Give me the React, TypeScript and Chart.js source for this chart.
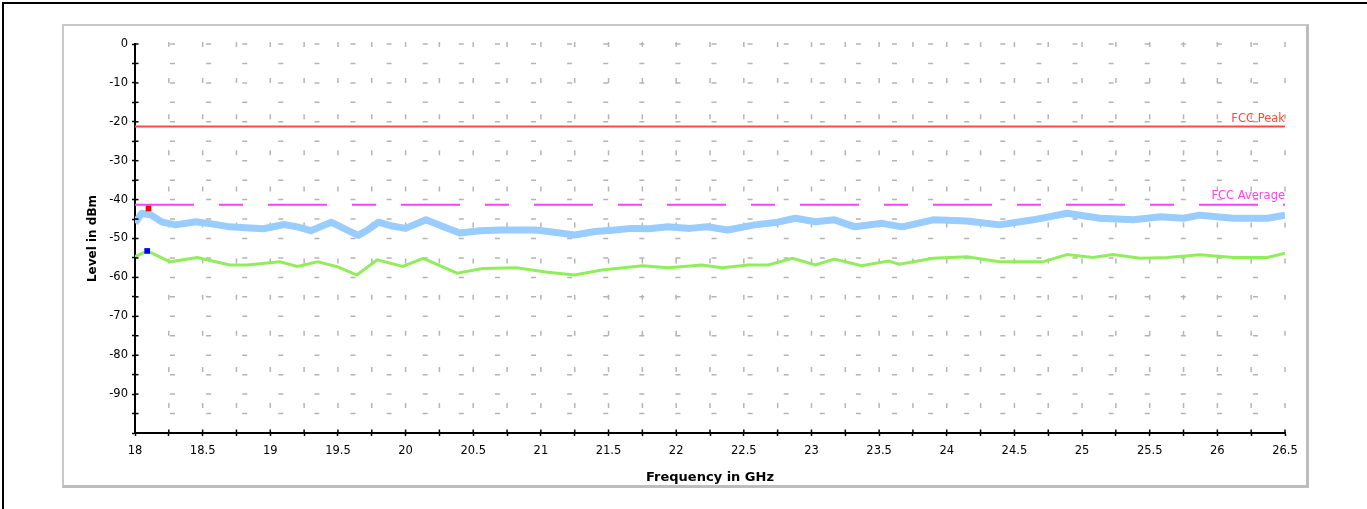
import React, { useEffect, useRef } from "react";
import { Chart, registerables } from "chart.js";

Chart.register(...registerables);

// ---- data ----
const peakTraceFreq = [
  18.0, 18.05, 18.12, 18.2, 18.3, 18.45, 18.58, 18.7, 18.85, 18.95, 19.1, 19.2, 19.3, 19.45, 19.55,
  19.65, 19.72, 19.8, 19.9, 20.0, 20.15, 20.28, 20.4, 20.55, 20.7, 20.85, 20.96, 21.1, 21.25, 21.4,
  21.55, 21.67, 21.8, 21.94, 22.1, 22.23, 22.38, 22.58, 22.75, 22.88, 23.03, 23.17, 23.32, 23.52,
  23.67, 23.9, 24.15, 24.39, 24.64, 24.89, 25.13, 25.38, 25.58, 25.75, 25.87, 26.12, 26.37, 26.5,
];
const peakTraceLevel = [
  -46.0, -43.5, -44.0, -45.8, -46.5, -45.7, -46.3, -47.0, -47.3, -47.5, -46.4, -47.0, -48.0, -45.8, -47.5,
  -49.2, -47.8, -45.8, -46.8, -47.4, -45.2, -47.0, -48.6, -48.0, -47.8, -47.8, -47.8, -48.4, -49.1, -48.2,
  -47.8, -47.4, -47.5, -47.0, -47.4, -47.0, -47.8, -46.5, -45.8, -44.8, -45.7, -45.2, -47.0, -46.1,
  -47.0, -45.2, -45.5, -46.5, -45.2, -43.5, -44.8, -45.2, -44.4, -44.8, -44.0, -44.8, -44.8, -44.0,
];
const avgTraceFreq = [
  18.0, 18.09, 18.26, 18.46, 18.7, 18.83, 19.07, 19.2, 19.35, 19.5, 19.64, 19.79, 19.98, 20.13, 20.38,
  20.57, 20.82, 21.05, 21.25, 21.45, 21.75, 21.94, 22.19, 22.34, 22.53, 22.68, 22.86, 23.03, 23.17,
  23.37, 23.57, 23.65, 23.9, 24.15, 24.39, 24.71, 24.89, 25.08, 25.23, 25.43, 25.63, 25.87, 26.12,
  26.37, 26.5,
];
const avgTraceLevel = [
  -54.7, -53.2, -56.0, -54.9, -56.8, -56.8, -56.0, -57.2, -56.0, -57.3, -59.4, -55.5, -57.2, -55.1, -58.9,
  -57.7, -57.5, -58.7, -59.4, -58.1, -57.0, -57.5, -56.8, -57.5, -56.8, -56.8, -55.1, -56.8, -55.3,
  -57.0, -55.8, -56.6, -55.1, -54.7, -56.0, -56.0, -54.1, -54.9, -54.1, -55.1, -54.9, -54.2, -54.9,
  -54.9, -53.8,
];
const limitFreq = [18, 26.5];
const fccPeakLevel = [-21.2, -21.2];
const fccAverageLevel = [-41.3, -41.3];
const peakMarkerFreq = [18.1];
const peakMarkerLevel = [-42.3];
const avgMarkerFreq = [18.09];
const avgMarkerLevel = [-53.2];
const limitLabels = ["FCC Peak", "FCC Average"];
const xTitle = "Frequency in GHz";
const yTitle = "Level in dBm";

const pts = (xs: number[], ys: number[]) => xs.map((x, i) => ({ x, y: ys[i] }));

const FONT = "'DejaVu Sans', 'Liberation Sans', sans-serif";

const gridPlugin = {
  id: "dashGrid",
  beforeDatasetsDraw(chart: any) {
    const { ctx, chartArea: a, scales } = chart;
    const x = scales.x;
    const y = scales.y;
    ctx.save();
    ctx.strokeStyle = "#b4b4b4";
    ctx.lineWidth = 1.5;
    ctx.setLineDash([5, 31.1]);
    x.ticks.forEach((t: any) => {
      if (t.value <= x.min + 1e-9) return;
      const px = x.getPixelForValue(t.value);
      ctx.beginPath();
      ctx.moveTo(px, a.top - 2);
      ctx.lineTo(px, a.bottom - 3);
      ctx.stroke();
    });
    y.ticks.forEach((t: any) => {
      if (t.value <= y.min + 1e-9) return;
      const py = y.getPixelForValue(t.value);
      ctx.beginPath();
      ctx.moveTo(a.left + 35, py);
      ctx.lineTo(a.right - 5, py);
      ctx.stroke();
    });
    ctx.restore();
  },
  afterDraw(chart: any) {
    const { ctx, chartArea: a, scales } = chart;
    const x = scales.x;
    const y = scales.y;
    ctx.save();
    ctx.strokeStyle = "#000";
    ctx.lineWidth = 1.5;
    y.ticks.forEach((t: any) => {
      const py = y.getPixelForValue(t.value);
      ctx.beginPath();
      ctx.moveTo(a.left, py);
      ctx.lineTo(a.left + 3.5, py);
      ctx.stroke();
    });
    x.ticks.forEach((t: any) => {
      const px = x.getPixelForValue(t.value);
      ctx.beginPath();
      ctx.moveTo(px, a.bottom);
      ctx.lineTo(px, a.bottom - 3.5);
      ctx.stroke();
    });
    // limit labels
    ctx.font = `11.5px ${FONT}`;
    ctx.textAlign = "right";
    ctx.textBaseline = "alphabetic";
    ctx.fillStyle = "#ff4a30";
    ctx.fillText(limitLabels[0], x.getPixelForValue(limitFreq[1]), y.getPixelForValue(fccPeakLevel[1]) - 4);
    ctx.fillStyle = "#ff40f0";
    ctx.fillText(limitLabels[1], x.getPixelForValue(limitFreq[1]), y.getPixelForValue(fccAverageLevel[1]) - 6);
    ctx.restore();
  },
};

export default function App() {
  const ref = useRef<HTMLCanvasElement | null>(null);
  useEffect(() => {
    if (!ref.current) return;
    const chart = new Chart(ref.current, {
      type: "line",
      data: {
        datasets: [
          {
            label: "Peak marker",
            data: pts(peakMarkerFreq, peakMarkerLevel),
            showLine: false,
            pointStyle: "rect",
            pointRadius: 4,
            borderWidth: 0,
            backgroundColor: "#ff0000",
            borderColor: "#ff0000",
          },
          {
            label: "Average marker",
            data: pts(avgMarkerFreq, avgMarkerLevel),
            showLine: false,
            pointStyle: "rect",
            pointRadius: 4,
            borderWidth: 0,
            backgroundColor: "#0000ff",
            borderColor: "#0000ff",
          },
          {
            label: "FCC Peak",
            data: pts(limitFreq, fccPeakLevel),
            borderColor: "#ff4a4a",
            borderWidth: 2,
            pointRadius: 0,
          },
          {
            label: "FCC Average",
            data: pts(limitFreq, fccAverageLevel),
            borderColor: "#ff40ff",
            borderWidth: 2,
            borderDash: [59, 25, 24, 25],
            pointRadius: 0,
          },
          {
            label: "Average",
            data: pts(avgTraceFreq, avgTraceLevel),
            borderColor: "#90ee5a",
            borderWidth: 3,
            pointRadius: 0,
          },
          {
            label: "Peak",
            data: pts(peakTraceFreq, peakTraceLevel),
            borderColor: "#99ccff",
            borderWidth: 7,
            pointRadius: 0,
            borderJoinStyle: "round",
          },
        ],
      },
      options: {
        responsive: false,
        animation: false,
        devicePixelRatio: 1,
        layout: { padding: { left: 86, top: 44, right: 82, bottom: 23.2 } },
        plugins: { legend: { display: false }, tooltip: { enabled: false } },
        scales: {
          x: {
            type: "linear",
            min: 18,
            max: 26.5,
            afterFit: (s: any) => {
              s.height = 52.8;
            },
            border: { display: true, color: "#000", width: 2 },
            grid: { drawOnChartArea: false, drawTicks: true, tickLength: 3, tickColor: "#000", tickWidth: 1.5 },
            ticks: {
              stepSize: 0.25,
              autoSkip: false,
              maxRotation: 0,
              padding: 8,
              color: "#000",
              font: { family: FONT, size: 11.5 },
              callback: (v: any) => (Number.isInteger(Math.round(v * 1000) / 500) ? String(v) : ""),
            },
            title: {
              display: true,
              text: xTitle,
              color: "#000",
              padding: 0,
              font: { family: FONT, size: 13, weight: "bold" },
            },
          },
          y: {
            type: "linear",
            min: -100,
            max: 0,
            afterFit: (s: any) => {
              s.width = 49;
            },
            border: { display: true, color: "#000", width: 2 },
            grid: { drawOnChartArea: false, drawTicks: true, tickLength: 3, tickColor: "#000", tickWidth: 1.5 },
            ticks: {
              stepSize: 5,
              autoSkip: false,
              padding: 4,
              color: "#000",
              font: { family: FONT, size: 11.5 },
              callback: (v: any) => (v % 10 === 0 && v > -100 ? String(v) : ""),
            },
            title: {
              display: true,
              text: yTitle,
              color: "#000",
              padding: 0,
              font: { family: FONT, size: 12, weight: "bold" },
            },
          },
        },
      },
      plugins: [gridPlugin],
    } as any);
    return () => chart.destroy();
  }, []);

  return (
    <div
      style={{
        position: "absolute",
        left: 0,
        top: 0,
        width: 1367,
        height: 509,
        overflow: "hidden",
        background: "#fff",
      }}
    >
      <div
        style={{
          position: "absolute",
          left: 2,
          top: 2,
          width: 1500,
          height: 700,
          borderLeft: "2px solid #000",
          borderTop: "2px solid #000",
        }}
      />
      <div
        style={{
          position: "absolute",
          left: 62,
          top: 24,
          width: 1242,
          height: 459,
          borderLeft: "2px solid #c8c8c8",
          borderTop: "2px solid #c8c8c8",
          borderRight: "3px solid #bdbdbd",
          borderBottom: "3px solid #bdbdbd",
        }}
      />
      <canvas ref={ref} width={1367} height={509} style={{ position: "absolute", left: 0, top: 0 }} />
    </div>
  );
}
